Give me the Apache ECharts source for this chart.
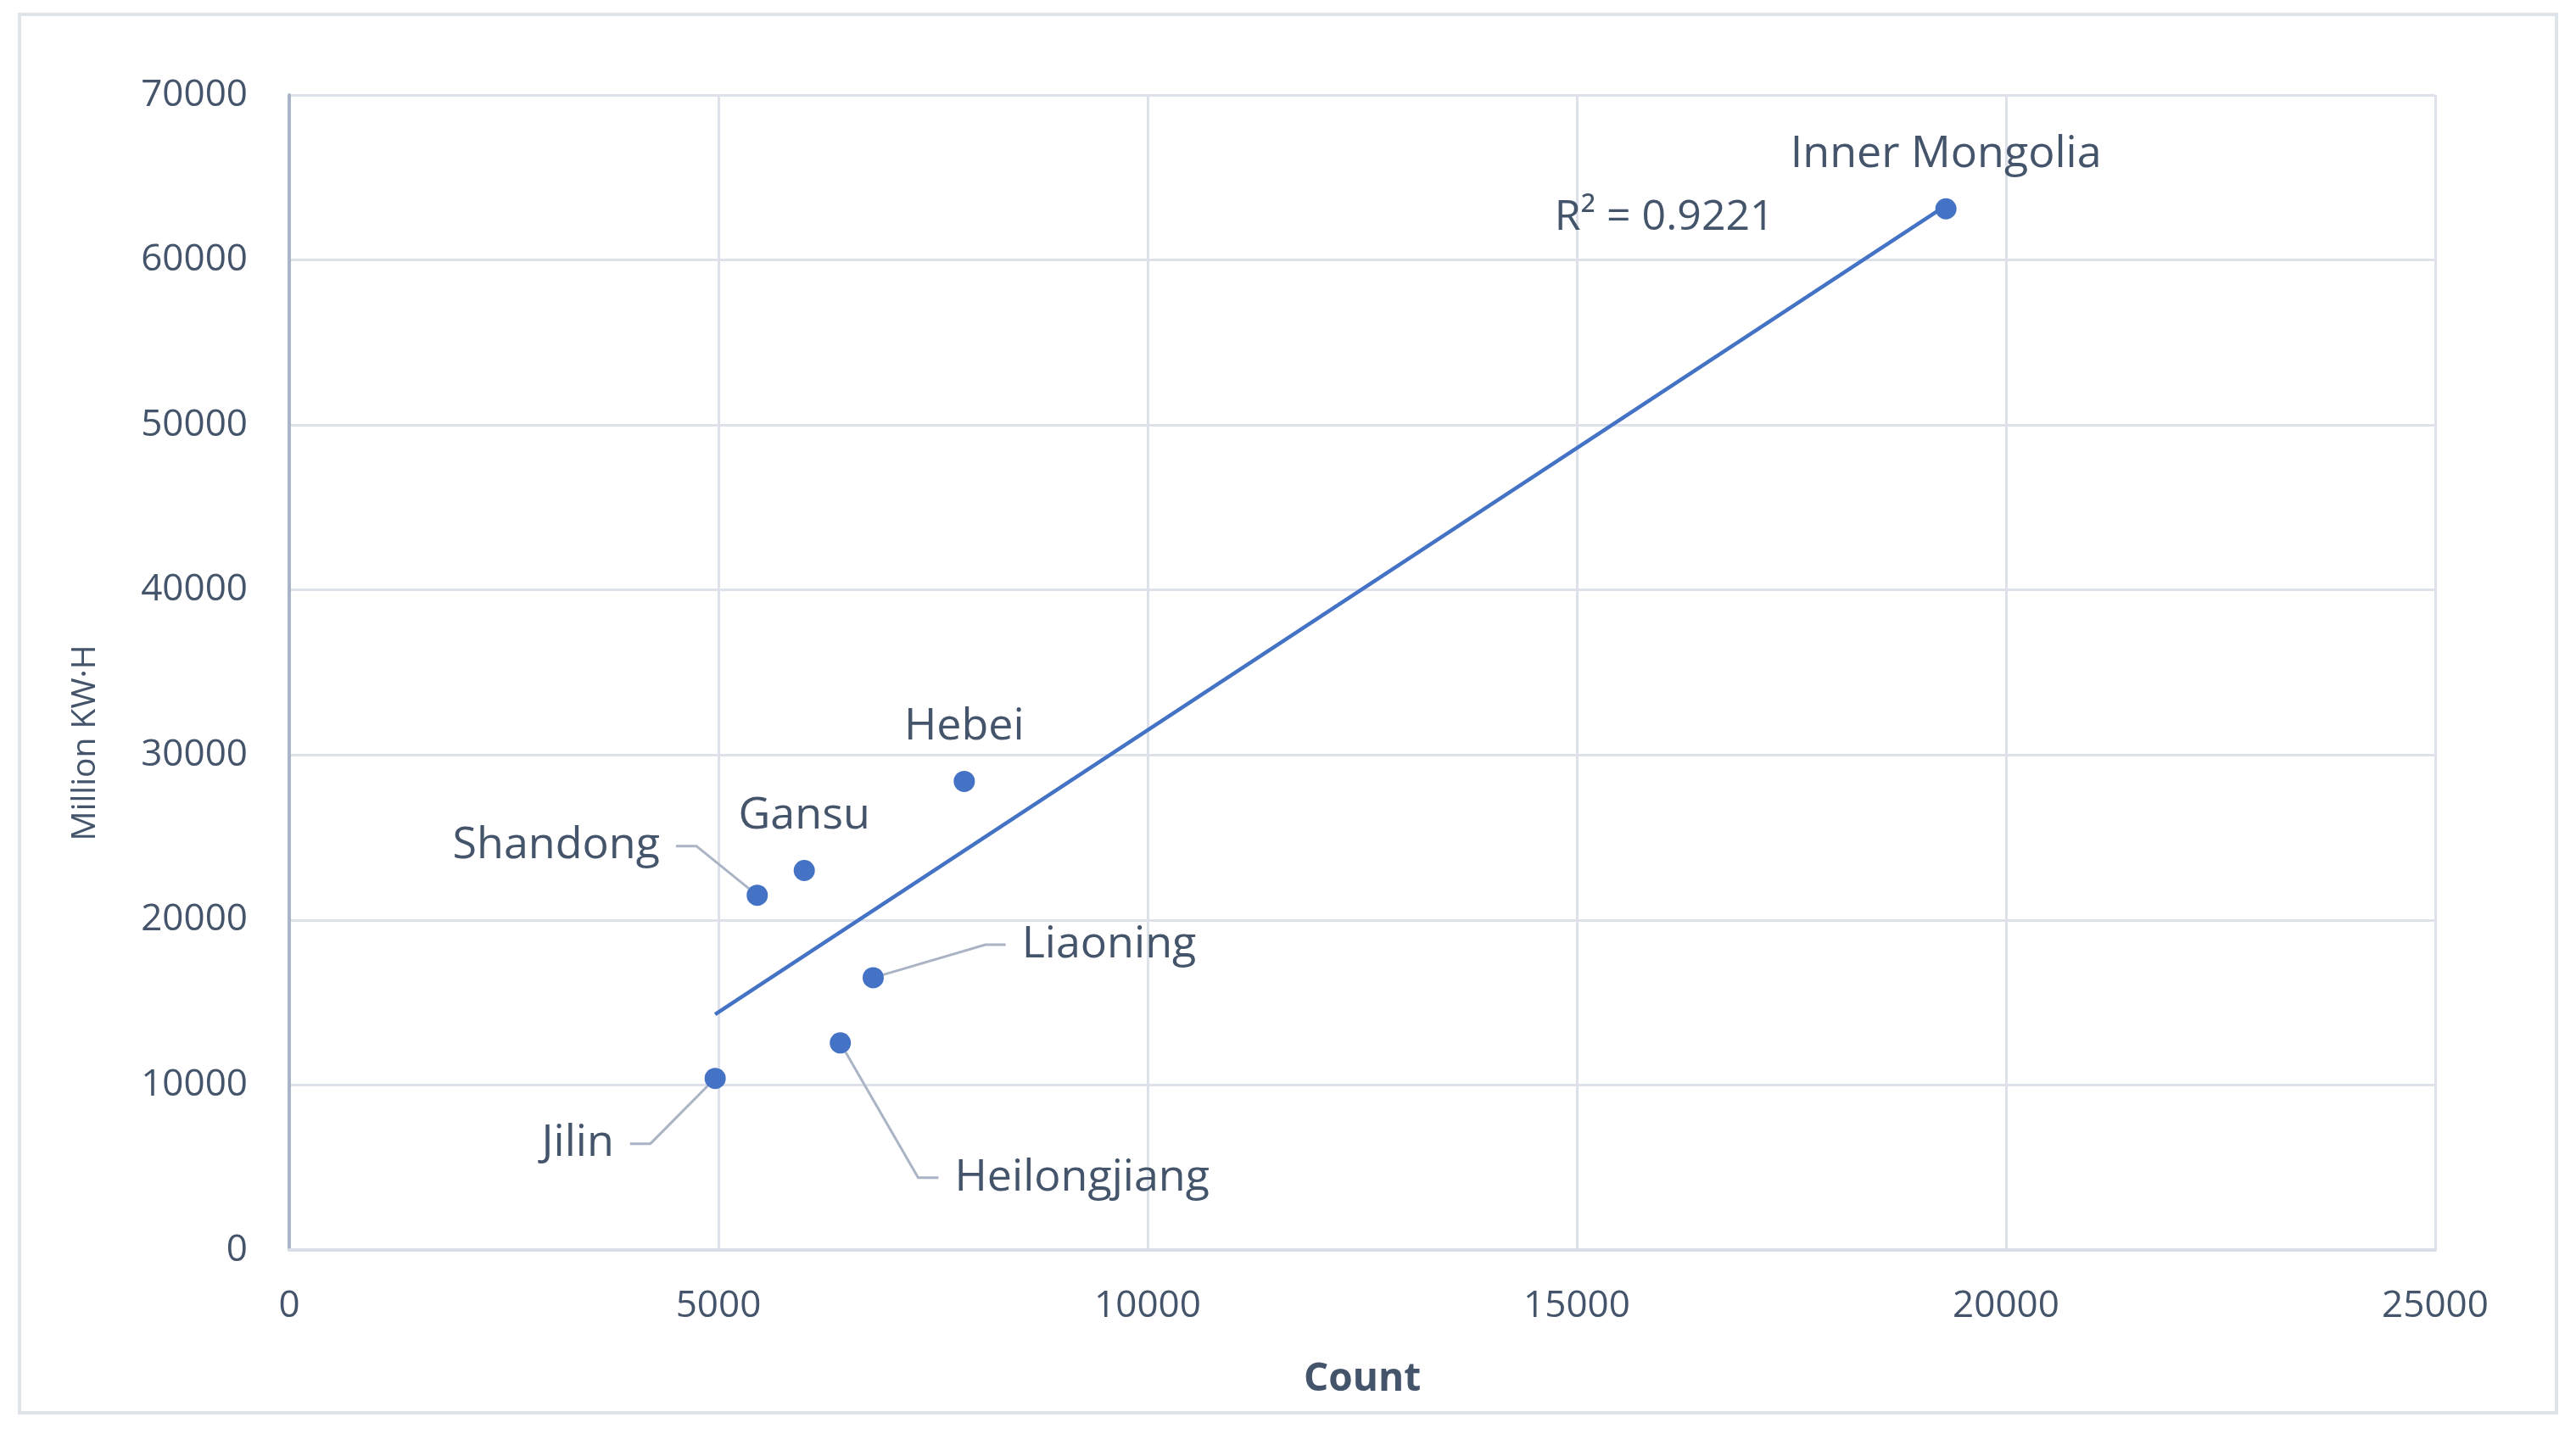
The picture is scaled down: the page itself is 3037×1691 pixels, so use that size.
<!DOCTYPE html>
<html>
<head>
<meta charset="utf-8">
<title>Count vs Million KW·H</title>
<script src="https://cdn.jsdelivr.net/npm/echarts@6/dist/echarts.min.js"></script>
<style>
  html, body { margin: 0; padding: 0; background: #ffffff; }
  #main { width: 3037px; height: 1691px; }
</style>
</head>
<body>
<div id="main"></div>
<script>
// 数据
var provinces = ['Inner Mongolia', 'Hebei', 'Gansu', 'Shandong', 'Liaoning', 'Heilongjiang', 'Jilin'];
var countVals = [19300, 7864, 6000, 5452, 6803, 6420, 4962];
var kwhVals = [63100, 28400, 23000, 21500, 16500, 12550, 10400];
var xRange = [0, 25000, 5000];
var yRange = [0, 70000, 10000];
var r2Text = 'R\u00b2 = 0.9221';

// 标签偏移 (相对点中心, 像素), 带引导线
var labelOffset = {
  'Shandong': [-237, -58],
  'Liaoning': [278, -39],
  'Heilongjiang': [285, 159],
  'Jilin': [-162, 77]
};

var textColor = '#44546a';
var fontName = 'Open Sans';
var blue = '#4472c4';

// 线性趋势线 (最小二乘)
var n = countVals.length, sx = 0, sy = 0, sxx = 0, sxy = 0;
for (var i = 0; i < n; i++) {
  sx += countVals[i]; sy += kwhVals[i];
  sxx += countVals[i] * countVals[i]; sxy += countVals[i] * kwhVals[i];
}
var slope = (n * sxy - sx * sy) / (n * sxx - sx * sx);
var intercept = (sy - slope * sx) / n;
var xMin = Math.min.apply(null, countVals);
var xMax = Math.max.apply(null, countVals);

var pointData = [];
for (var j = 0; j < n; j++) {
  pointData.push({
    name: provinces[j],
    value: [countVals[j], kwhVals[j]],
    labelLine: { show: !!labelOffset[provinces[j]] }
  });
}

var trendData = [
  { value: [xMin, slope * xMin + intercept] },
  {
    value: [xMax, slope * xMax + intercept],
    label: {
      show: true,
      formatter: r2Text,
      position: 'left',
      distance: 202,
      offset: [0, 14],
      color: textColor,
      fontFamily: fontName,
      fontSize: 50
    }
  }
];

var plainNum = function (v) { return String(v); };

var myChart = echarts.init(document.getElementById('main'));

var option = {
  backgroundColor: '#ffffff',
  animation: false,
  grid: { left: 341, right: 166, top: 112, bottom: 217 },
  graphic: [
    {
      type: 'rect',
      shape: { x: 23, y: 17, width: 2991, height: 1649 },
      style: { fill: 'none', stroke: '#dfe3ea', lineWidth: 4 },
      silent: true
    },
    {
      type: 'text',
      x: 101,
      y: 876,
      rotation: Math.PI / 2,
      style: {
        text: 'Million KW\u00b7H',
        fill: textColor,
        font: '39px "Open Sans"',
        textAlign: 'center',
        textVerticalAlign: 'middle'
      }
    }
  ],
  xAxis: {
    type: 'value',
    min: xRange[0],
    max: xRange[1],
    interval: xRange[2],
    name: 'Count',
    nameLocation: 'middle',
    nameGap: 130,
    nameTextStyle: { color: textColor, fontFamily: fontName, fontSize: 46, fontWeight: 'bold' },
    axisLine: { show: true, onZero: false, lineStyle: { color: '#d9dee7', width: 4 } },
    axisTick: { show: false },
    axisLabel: { color: textColor, fontFamily: fontName, fontSize: 44, margin: 44, formatter: plainNum },
    splitLine: { show: true, lineStyle: { color: '#dde2ea', width: 3 } }
  },
  yAxis: {
    type: 'value',
    min: yRange[0],
    max: yRange[1],
    interval: yRange[2],
    axisLine: { show: true, onZero: false, lineStyle: { color: '#a9b4c6', width: 4 } },
    axisTick: { show: false },
    axisLabel: {
      color: textColor, fontFamily: fontName, fontSize: 44, margin: 49,
      formatter: plainNum,
      backgroundColor: 'rgba(255,255,255,0)',
      padding: [8, 0, 0, 0]
    },
    splitLine: { show: true, lineStyle: { color: '#dde2ea', width: 3 } }
  },
  series: [
    {
      name: 'Trend',
      type: 'line',
      data: trendData,
      symbol: 'circle',
      symbolSize: 1,
      showSymbol: true,
      itemStyle: { color: blue },
      lineStyle: { color: blue, width: 4.5 },
      z: 2
    },
    {
      name: 'Provinces',
      type: 'scatter',
      data: pointData,
      symbol: 'circle',
      symbolSize: 25,
      itemStyle: { color: blue, opacity: 1 },
      label: {
        show: true,
        formatter: '{b}',
        position: 'top',
        distance: 26,
        color: textColor,
        opacity: 1,
        fontFamily: fontName,
        fontSize: 52,
        backgroundColor: 'rgba(255,255,255,0)',
        padding: [0, 19]
      },
      labelLine: {
        show: true,
        length2: 24,
        lineStyle: { color: '#aab4c4', width: 3, opacity: 1 }
      },
      labelLayout: function (params) {
        var off = labelOffset[provinces[params.dataIndex]];
        if (!off) {
          return {};
        }
        return {
          x: params.rect.x + params.rect.width / 2 + off[0],
          y: params.rect.y + params.rect.height / 2 + off[1],
          align: 'center',
          verticalAlign: 'middle'
        };
      },
      z: 3
    }
  ]
};

myChart.setOption(option);
</script>
</body>
</html>
